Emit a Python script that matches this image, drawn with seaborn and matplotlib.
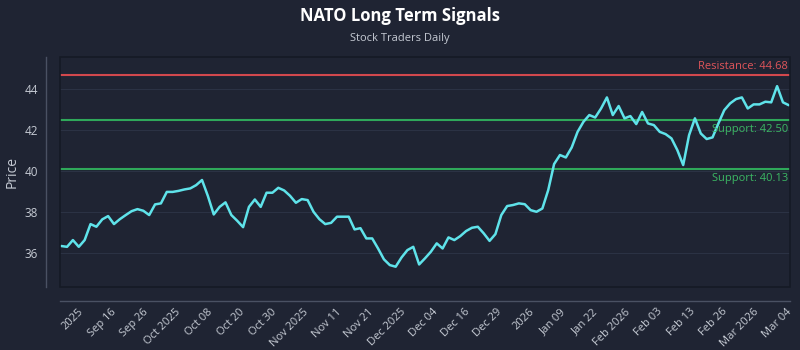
import numpy as np
import pandas as pd
import seaborn as sns
import matplotlib
matplotlib.use("Agg")
import matplotlib.pyplot as plt
from matplotlib.patches import Rectangle

# ---- data ----
prices = [
    36.36, 36.32, 36.65, 36.32, 36.65, 37.43, 37.30, 37.66, 37.82, 37.43,
    37.67, 37.87, 38.06, 38.16, 38.08, 37.87, 38.39, 38.44, 39.00, 39.00,
    39.05, 39.12, 39.17, 39.33, 39.58, 38.80, 37.90, 38.27, 38.49, 37.87,
    37.59, 37.28, 38.27, 38.63, 38.27, 38.96, 38.96, 39.20, 39.07, 38.81,
    38.47, 38.65, 38.60, 38.03, 37.67, 37.43, 37.49, 37.79, 37.79, 37.79,
    37.17, 37.23, 36.73, 36.73, 36.24, 35.71, 35.43, 35.35, 35.80, 36.16,
    36.32, 35.46, 35.76, 36.08, 36.49, 36.24, 36.78, 36.65, 36.84, 37.09,
    37.25, 37.30, 36.98, 36.61, 36.94, 37.87, 38.31, 38.36, 38.44, 38.40,
    38.11, 38.03, 38.19, 39.09, 40.36, 40.80, 40.68, 41.17, 41.93, 42.42,
    42.75, 42.63, 43.07, 43.61, 42.75, 43.19, 42.59, 42.70, 42.31, 42.90,
    42.34, 42.26, 41.93, 41.82, 41.61, 41.04, 40.31, 41.77, 42.59, 41.85,
    41.58, 41.66, 42.34, 42.99, 43.32, 43.53, 43.61, 43.07, 43.27, 43.27,
    43.40, 43.37, 44.16, 43.37, 43.23,
]
tick_labels = [
    "2025", "Sep 16", "Sep 26", "Oct 2025", "Oct 08", "Oct 20", "Oct 30",
    "Nov 2025", "Nov 11", "Nov 21", "Dec 2025", "Dec 04", "Dec 16", "Dec 29",
    "2026", "Jan 09", "Jan 22", "Feb 2026", "Feb 03", "Feb 13", "Feb 26",
    "Mar 2026", "Mar 04",
]
resistance = 44.68
supports = [42.50, 40.13]
y_ticks = [36, 38, 40, 42, 44]

# ---- style ----
BG = "#1f2433"
TXT = "#c5cad3"
LINE = "#5fe3ea"
RED = "#d2484d"
RED_TXT = "#e0555a"
GREEN = "#2fa85a"
GREEN_TXT = "#3cb864"

sns.set_theme(style="dark", rc={
    "xtick.color": TXT, "ytick.color": TXT, "text.color": TXT,
    "axes.labelcolor": TXT,
})
plt.rcParams["font.family"] = ["Open Sans", "DejaVu Sans"]

df = pd.DataFrame({"idx": np.arange(len(prices)), "price": prices})

fig = plt.figure(figsize=(8, 3.5), dpi=100, facecolor=BG)
ax = fig.add_axes([0.075, 0.18, 0.9125, 0.657])
ax.set_facecolor(BG)

for yv in y_ticks:
    ax.axhline(yv, color="#2b3244", lw=0.8, zorder=0)

ax.axhline(resistance, color=RED, lw=1.5, zorder=2)
for s in supports:
    ax.axhline(s, color=GREEN, lw=1.5, zorder=2)

sns.lineplot(data=df, x="idx", y="price", ax=ax, color=LINE, lw=1.8, zorder=3)

n = len(prices)
ax.set_xlim(-0.2, n - 0.8)
ax.set_ylim(34.36, 45.58)

ax.text(0.997, resistance + 0.18, f"Resistance: {resistance:.2f}", color=RED_TXT,
        fontsize=8, ha="right", va="bottom", transform=ax.get_yaxis_transform())
for s in supports:
    ax.text(0.997, s - 0.2, f"Support: {s:.2f}", color=GREEN_TXT,
            fontsize=8, ha="right", va="top", transform=ax.get_yaxis_transform())

tick_pos = np.linspace(2.9, n - 1.5, len(tick_labels))
ax.set_xticks(tick_pos)
ax.set_xticklabels(tick_labels)
ax.set_yticks(y_ticks)
ax.set_yticklabels([str(v) for v in y_ticks])
ax.tick_params(axis="x", length=0, pad=4, labelsize=8, labelcolor=TXT)
ax.tick_params(axis="y", length=0, pad=6, labelsize=8.5, labelcolor=TXT)
ax.set_xlabel("")
ax.set_ylabel("Price", color=TXT, fontsize=10, labelpad=3)

for side in ["top", "right"]:
    ax.spines[side].set_visible(False)
ax.spines["left"].set_position(("outward", 10))
ax.spines["bottom"].set_position(("outward", 10))
for side in ["left", "bottom"]:
    ax.spines[side].set_visible(True)
    ax.spines[side].set_color("#4a5163")
    ax.spines[side].set_linewidth(1.0)

ax.add_patch(Rectangle((0, 0), 1, 1, transform=ax.transAxes, fill=False,
                       edgecolor="#151a25", lw=1.2, zorder=5, clip_on=False))

fig.text(0.5, 0.955, "NATO Long Term Signals", ha="center", va="center",
         color="white", fontsize=12, fontweight="bold")
fig.text(0.5, 0.89, "Stock Traders Daily", ha="center", va="center",
         color=TXT, fontsize=8)

for lbl in ax.get_xticklabels():
    lbl.set_rotation(45)
    lbl.set_ha("right")
    lbl.set_rotation_mode("anchor")

fig.savefig("out.png", dpi=100, facecolor=BG)
